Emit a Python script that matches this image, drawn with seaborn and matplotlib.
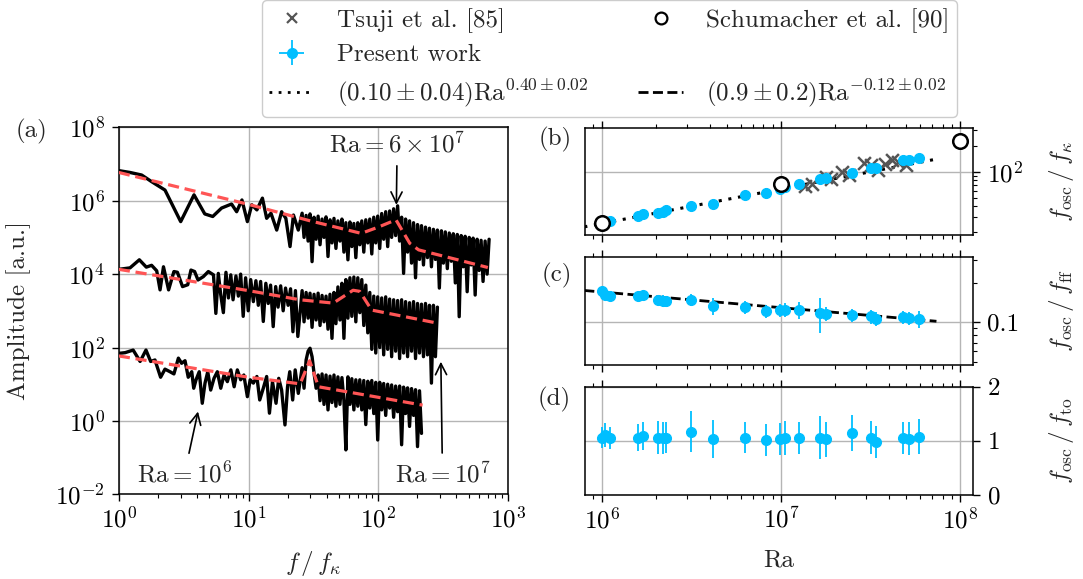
import numpy as np
import matplotlib
matplotlib.use("Agg")
import matplotlib.pyplot as plt
import seaborn as sns
from matplotlib.lines import Line2D
from matplotlib.ticker import LogLocator, NullFormatter, NullLocator

# ---------------- panel (a): spectra (log10 amplitude) ----------------
# frequency samples shared by the dense part of all three spectra (f/f_kappa > 25)
grid_f = [25.9, 26.8, 27.8, 28.8, 29.8, 30.9, 32.0, 33.2, 34.4, 35.6,
          36.9, 38.2, 39.6, 41.0, 42.5, 44.0, 45.6, 47.2, 48.9, 50.7,
          52.5, 54.4, 56.3, 58.4, 60.5, 62.6, 64.9, 67.2, 69.6, 72.1,
          74.7, 77.4, 80.2, 83.1, 86.1, 89.2, 92.4, 95.7, 99.1, 102.7,
          106.4, 110.2, 114.2, 118.3, 122.5, 126.9, 131.5, 136.2, 141.1, 146.2,
          151.5, 156.9, 162.5, 168.4, 174.4, 180.7, 187.2, 193.9, 200.9, 208.1,
          215.6, 223.3, 231.4, 239.7, 248.3, 257.2, 266.5, 276.1, 286, 296,
          307, 318, 329, 341, 353, 366, 379, 393, 407, 421,
          436, 452, 468, 485, 503, 521, 539, 559, 579, 600,
          621, 643, 667, 691, 716]

# Ra = 6e7
top_low_f = [1.0, 1.22, 1.5, 1.79, 2.27, 3.0, 3.8, 4.6, 5.3, 6.2, 7.4, 8.1, 8.9,
             9.8, 10.6, 11.6, 12.8, 13.8, 14.9, 16.5, 18.0, 19.4, 20.9, 22.2, 24.2]
top_low_a = [6.82, 6.77, 6.70, 6.52, 6.29, 5.43, 6.16, 5.64, 5.57, 5.80, 5.91, 5.70, 6.02,
             5.43, 5.89, 5.75, 6.07, 5.52, 5.66, 5.20, 5.70, 5.52, 4.75, 5.61, 5.20]
top_dense_a = [5.66, 5.00, 5.60, 4.90, 5.64, 4.34, 5.55, 4.95, 5.58, 4.80,
               5.50, 5.00, 5.56, 4.48, 5.48, 4.85, 5.52, 4.70, 5.45, 4.90,
               5.50, 4.60, 5.40, 4.39, 5.42, 4.75, 5.38, 4.45, 5.40, 4.80,
               5.45, 4.60, 5.48, 4.85, 5.50, 4.55, 5.55, 4.85, 5.58, 4.70,
               5.65, 4.95, 5.70, 4.75, 5.72, 5.00, 5.78, 5.05, 5.86, 4.90,
               5.55, 4.02, 5.50, 4.60, 5.45, 4.30, 5.40, 3.90, 5.35, 4.40,
               5.32, 4.25, 5.28, 4.45, 5.25, 4.20, 5.22, 4.40, 5.20, 3.62,
               5.18, 4.30, 5.15, 4.15, 5.12, 4.35, 5.10, 3.76, 5.08, 2.84,
               5.05, 4.20, 5.03, 3.52, 5.00, 4.25, 4.98, 3.43, 4.95, 4.10,
               4.92, 3.80, 4.90, 4.00, 4.95]
top_fit_f = [1, 10, 30, 74, 100, 137, 175, 205, 400, 700]
top_fit_a = [6.77, 5.90, 5.45, 5.11, 5.28, 5.48, 4.84, 4.66, 4.40, 4.18]

# Ra = 1e7
mid_low_f = [1.0, 1.22, 1.44, 1.63, 1.79, 1.96, 2.08, 2.21, 2.42, 2.66,
             2.83, 3.1, 3.4, 3.6, 3.84, 4.08, 4.48, 4.9, 5.37]
mid_low_a = [4.13, 4.17, 4.39, 4.19, 4.24, 4.09, 3.57, 4.20, 3.57, 4.07,
             4.05, 3.66, 3.71, 4.11, 4.07, 3.84, 3.93, 4.07, 3.98]
mid_band_f = [5.6, 5.85, 6.1, 6.4, 6.7, 7.0, 7.3, 7.6, 8.0, 8.35, 8.7, 9.1, 9.5, 9.95,
              10.4, 10.9, 11.4, 11.9, 12.4, 13.0, 13.6, 14.2, 14.8, 15.5, 16.2, 16.9,
              17.7, 18.5, 19.3, 20.2, 21.1, 22.0, 23.0, 24.0]
mid_band_a = [2.93, 4.02, 3.45, 2.95, 4.05, 3.35, 3.98, 3.30, 3.95, 3.40, 4.00, 2.85, 3.90, 3.00,
              3.85, 3.25, 3.82, 3.15, 3.80, 2.71, 3.75, 3.20, 3.70, 2.57, 3.66, 3.10,
              3.68, 3.00, 3.62, 3.15, 3.60, 2.43, 3.55, 2.30]
mid_dense_a = [3.55, 2.70, 3.50, 2.80, 3.48, 2.55, 3.45, 2.75, 3.48, 2.60,
               3.42, 2.70, 3.40, 2.50, 3.45, 2.25, 3.50, 2.65, 3.65, 2.75,
               3.75, 2.25, 3.85, 2.80, 3.90, 2.85, 3.92, 2.70, 3.90, 2.95,
               3.85, 2.60, 3.70, 2.40, 3.50, 1.95, 3.40, 1.85, 3.38, 2.00,
               3.35, 1.80, 3.38, 1.95, 3.32, 1.75, 3.30, 1.90, 3.28, 1.70,
               3.30, 1.85, 3.25, 1.75, 3.22, 1.90, 3.25, 1.70, 3.20, 1.85,
               3.18, 1.75, 3.20, 1.80, 3.15, 1.03, 3.15, 1.75, 3.10]
mid_fit_f = [1, 10, 25, 45, 64, 72, 89, 290]
mid_fit_a = [4.13, 3.55, 3.30, 3.21, 3.56, 3.53, 3.02, 2.66]

# Ra = 1e6
low_low_f = [1.0, 1.12, 1.29, 1.46, 1.62, 1.76, 1.90, 2.10, 2.27, 2.48,
             2.66, 2.88, 3.05, 3.24, 3.43, 3.65, 3.78, 3.94, 4.17, 4.40,
             4.62, 4.85, 5.11, 5.42, 5.75, 6.11, 6.47, 6.87, 7.31, 7.75,
             8.2, 8.7, 9.2, 9.8, 10.3, 10.9, 11.6, 12.2, 13.0, 13.8,
             14.5, 15.3, 16.3, 17.1, 18.0, 19.1, 20.0, 20.8, 21.9, 22.9, 24.2]
low_low_a = [1.84, 1.86, 1.93, 1.62, 1.93, 1.62, 1.66, 1.19, 1.41, 1.34,
             1.28, 1.71, 1.57, 1.64, 1.19, 1.34, 0.89, 1.12, 1.34, 0.48,
             1.03, 1.34, 0.84, 1.16, 1.34, 0.89, 1.25, 1.07, 1.39, 0.93,
             1.39, 1.12, 1.25, 0.66, 1.12, 1.03, 1.21, 0.57, 0.89, 1.21,
             0.21, 1.07, 0.48, 1.16, 0.84, -0.11, 0.93, 1.34, 0.57, 1.39, 0.75]
low_dense_a = [1.45, 0.89, 1.66, 1.90, 1.98, 1.75, 1.30, 0.89, 1.25, 0.55,
               1.28, 0.45, 1.25, 0.30, 1.22, 0.50, 1.25, 0.40, 1.20, 0.45,
               1.18, 0.55, -0.79, 1.20, 0.45, 1.15, 0.30, 1.12, 0.40, 1.12,
               0.30, 1.10, -0.10, 1.08, 0.35, 1.10, 0.20, 1.05, -0.52, 1.05,
               0.30, 1.02, 0.15, 1.00, 0.35, 0.98, 0.10, 0.95, 0.25, 0.95,
               -0.65, 0.92, 0.20, 0.90, -0.15, 0.88, 0.15, 0.85, -0.70, 0.82,
               -0.34]
low_fit_f = [1, 10, 25, 29.6, 34.6, 220]
low_fit_a = [1.77, 1.19, 1.01, 1.64, 0.93, 0.43]

# ---------------- panels (b)-(d) ----------------
ra = [1.0e6, 1.05e6, 1.12e6, 1.6e6, 1.7e6, 2.05e6, 2.2e6, 2.3e6, 3.15e6, 4.2e6, 6.3e6, 8.3e6,
      9.9e6, 1.05e7, 1.27e7, 1.66e7, 1.8e7, 2.5e7, 3.2e7, 3.4e7, 4.8e7, 5.2e7, 5.9e7]
ra_err = [4e4, 4e4, 4.5e4, 6.5e4, 7e4, 8e4, 9e4, 9e4, 1.3e5, 1.7e5, 2.5e5, 3.3e5,
          4e5, 4.2e5, 5e5, 6.5e5, 7e5, 1e6, 1.3e6, 1.4e6, 1.9e6, 2.1e6, 2.4e6]
f_kappa = [26.4, 26.4, 26.9, 30.8, 32.4, 33.6, 34.5, 36.1, 40.1, 42.3, 53.7, 57.2,
           62.6, 66.0, 72.0, 81.7, 83.9, 95.8, 109.5, 109.5, 136.5, 136.5, 142.8]
f_kappa_err = [3.0, 3.0, 3.2, 3.5, 3.8, 4.0, 4.0, 4.2, 4.8, 5.5, 6.5, 7.0,
               7.5, 8.0, 8.5, 9.5, 10, 11, 13, 13, 16, 16, 17]
f_ff = [0.173, 0.163, 0.159, 0.159, 0.163, 0.149, 0.147, 0.145, 0.149, 0.133, 0.131, 0.122,
        0.124, 0.125, 0.125, 0.118, 0.117, 0.113, 0.111, 0.107, 0.110, 0.108, 0.106]
f_ff_err = [0.010, 0.012, 0.012, 0.013, 0.013, 0.014, 0.015, 0.014, 0.016, 0.020, 0.016, 0.014,
            0.014, 0.015, 0.018, 0.035, 0.014, 0.013, 0.014, 0.013, 0.012, 0.012, 0.016]
f_to = [1.06, 1.11, 1.05, 1.06, 1.09, 1.06, 1.05, 1.06, 1.17, 1.03, 1.06, 1.02,
        1.03, 1.05, 1.05, 1.06, 1.03, 1.14, 1.06, 0.98, 1.05, 1.04, 1.08]
f_to_err = [0.20, 0.22, 0.20, 0.25, 0.25, 0.30, 0.30, 0.28, 0.38, 0.35, 0.28, 0.30,
            0.30, 0.32, 0.30, 0.40, 0.32, 0.33, 0.30, 0.30, 0.30, 0.30, 0.33]

tsuji_ra = [1.37e7, 1.5e7, 1.8e7, 1.9e7, 2.2e7, 2.4e7, 2.9e7, 3.2e7, 3.5e7, 3.8e7, 4.2e7, 4.5e7, 5.0e7]
tsuji_f = [68, 72, 86, 82, 98, 92, 125, 120, 105, 122, 135, 128, 120]
schu_ra = [1e6, 1e7, 1e8]
schu_f = [25.3, 71.5, 226]

fit_ra = [8.0e5, 7.4e7]
fit_kappa = [23.0, 140.0]
fit_ff = [0.176, 0.102]

# ---------------- style ----------------
sns.set_style("ticks")
plt.rcParams.update({
    "font.family": "serif",
    "font.serif": ["cmr10"],
    "mathtext.fontset": "cm",
    "axes.formatter.use_mathtext": True,
    "axes.unicode_minus": False,
    "font.size": 18,
    "axes.edgecolor": "black",
    "axes.linewidth": 1.1,
    "xtick.color": "black", "ytick.color": "black",
    "xtick.direction": "out", "ytick.direction": "out",
    "xtick.major.size": 5, "ytick.major.size": 5,
    "xtick.minor.size": 3, "ytick.minor.size": 3,
    "xtick.major.width": 1.0, "ytick.major.width": 1.0,
    "xtick.minor.width": 0.8, "ytick.minor.width": 0.8,
    "xtick.major.pad": 4, "ytick.major.pad": 5,
})

BLUE = "deepskyblue"
RED = "#ff5555"
GRID = "#b5b5b5"

fig = plt.figure(figsize=(10.83, 5.79), dpi=100)
ax_a = fig.add_axes([0.1097, 0.1463, 0.3593, 0.6338])
ax_b = fig.add_axes([0.5399, 0.5941, 0.3589, 0.1853])
ax_c = fig.add_axes([0.5399, 0.3696, 0.3589, 0.1870], sharex=ax_b)
ax_d = fig.add_axes([0.5399, 0.1451, 0.3589, 0.1870], sharex=ax_b)

# ---- (a) ----
ax_a.set_xscale("log")
ax_a.set_yscale("log")
spectra = [
    (top_low_f + grid_f[:len(top_dense_a)], top_low_a + top_dense_a, top_fit_f, top_fit_a),
    (mid_low_f + mid_band_f + grid_f[:len(mid_dense_a)], mid_low_a + mid_band_a + mid_dense_a,
     mid_fit_f, mid_fit_a),
    (low_low_f + grid_f[:len(low_dense_a)], low_low_a + low_dense_a, low_fit_f, low_fit_a),
]
for f, a, ff, fa in spectra:
    sns.lineplot(x=np.array(f), y=10.0 ** np.array(a), ax=ax_a, color="black", lw=2.4,
                 estimator=None, sort=False, zorder=2)
for f, a, ff, fa in spectra:
    ax_a.plot(ff, 10.0 ** np.array(fa), color=RED, lw=2.3, dashes=(3.5, 1.8), zorder=3)

ax_a.set_xlim(1, 1e3)
ax_a.set_ylim(1e-2, 1e8)
ax_a.set_yticks([1e-2, 1e0, 1e2, 1e4, 1e6, 1e8])
ax_a.yaxis.set_minor_locator(NullLocator())
ax_a.xaxis.set_major_locator(LogLocator(base=10, numticks=10))
ax_a.xaxis.set_minor_locator(LogLocator(base=10, subs=np.arange(2, 10), numticks=10))
ax_a.xaxis.set_minor_formatter(NullFormatter())
ax_a.grid(True, which="major", color=GRID, lw=1)
ax_a.tick_params(which="both", top=False, right=False)
ax_a.set_xlabel(r"$f\,/\,f_\kappa$")
ax_a.set_ylabel("Amplitude [a.u.]")
ax_a.yaxis.set_label_coords(-0.226, 0.5)
ax_a.xaxis.set_label_coords(0.5, -0.15)

arrow = dict(arrowstyle="->", color="black", lw=1.2, mutation_scale=20, shrinkA=4, shrinkB=0)
ax_a.annotate(r"$\mathrm{Ra} = 6 \times 10^7$", xy=(138, 7.7e5), xytext=(140, 3.5e7),
              ha="center", va="center", arrowprops=arrow)
ax_a.annotate(r"$\mathrm{Ra} = 10^6$", xy=(4.08, 1.8), xytext=(3.2, 0.034),
              ha="center", va="center", arrowprops=arrow)
ax_a.annotate(r"$\mathrm{Ra} = 10^7$", xy=(304, 41), xytext=(313, 0.034),
              ha="center", va="center", arrowprops=arrow)

# ---- (b)-(d) ----
ax_b.plot(fit_ra, fit_kappa, color="black", lw=2.2, dashes=(1, 2.2), zorder=1.5)
sns.scatterplot(x=tsuji_ra, y=tsuji_f, ax=ax_b, marker="x", color="#555555", s=85,
                linewidth=1.8, zorder=2)
eb = ax_b.errorbar(ra, f_kappa, yerr=f_kappa_err, xerr=ra_err, fmt="o", color=BLUE, ms=7,
                   elinewidth=1.3, capsize=0, zorder=3)
sns.scatterplot(x=schu_ra, y=schu_f, ax=ax_b, marker="o", color="white", edgecolor="black",
                s=110, linewidth=1.8, zorder=5)

ax_c.plot(fit_ra, fit_ff, color="black", lw=2.0, dashes=(3.6, 1.6), zorder=1.5)
ax_c.errorbar(ra, f_ff, yerr=f_ff_err, xerr=ra_err, fmt="o", color=BLUE, ms=7,
              elinewidth=1.3, capsize=0, zorder=3)

ax_d.errorbar(ra, f_to, yerr=f_to_err, xerr=ra_err, fmt="o", color=BLUE, ms=7,
              elinewidth=1.3, capsize=0, zorder=3)

for ax in (ax_b, ax_c, ax_d):
    ax.set_xscale("log")
    ax.yaxis.tick_right()
    ax.yaxis.set_label_position("right")
    ax.tick_params(which="both", top=True, bottom=True, left=False, right=True,
                   labelbottom=(ax is ax_d), labelleft=False, labelright=True)
    ax.grid(True, which="major", color=GRID, lw=1)
    ax.yaxis.set_label_coords(1.19, 0.5)
ax_d.set_xlim(8.04e5, 1.19e8)
ax_d.xaxis.set_major_locator(LogLocator(base=10, numticks=10))
ax_d.xaxis.set_minor_locator(LogLocator(base=10, subs=np.arange(2, 10), numticks=10))
ax_d.xaxis.set_minor_formatter(NullFormatter())

ax_b.set_yscale("log")
ax_b.set_ylim(18.5, 323)
ax_b.set_yticks([100])
ax_b.yaxis.set_minor_locator(LogLocator(base=10, subs=np.arange(2, 10), numticks=10))
ax_b.yaxis.set_minor_formatter(NullFormatter())

ax_c.set_yscale("log")
ax_c.set_ylim(0.047, 0.32)
ax_c.set_yticks([0.1], ["0.1"])
ax_c.yaxis.set_minor_locator(LogLocator(base=10, subs=np.arange(2, 10), numticks=10))
ax_c.yaxis.set_minor_formatter(NullFormatter())

ax_d.set_ylim(0, 2)
ax_d.set_yticks([0, 1, 2])

ax_b.set_ylabel(r"$f_\mathrm{osc}\,/\,f_\kappa$")
ax_c.set_ylabel(r"$f_\mathrm{osc}\,/\,f_\mathrm{ff}$")
ax_d.set_ylabel(r"$f_\mathrm{osc}\,/\,f_\mathrm{to}$")
ax_d.set_xlabel("Ra")
ax_d.xaxis.set_label_coords(0.5, -0.5)

for lab, x, y in [("(a)", 31, 131), ("(b)", 555, 139), ("(c)", 557, 275), ("(d)", 554, 399)]:
    fig.text(x / 1083, 1 - y / 579, lab, ha="center", va="center")

# ---- legend ----
h_tsuji = Line2D([], [], ls="none", marker="x", color="#555555", ms=7.5, mew=1.6)
h_schu = Line2D([], [], ls="none", marker="o", mfc="white", mec="black", ms=8.5, mew=1.6)
h_dot = Line2D([], [], color="black", lw=2.0, dashes=(1, 2.3))
h_dash = Line2D([], [], color="black", lw=2.0, dashes=(3.6, 1.6))
h_blank = Line2D([], [], ls="none")
handles = [h_tsuji, eb, h_dot, h_schu, h_blank, h_dash]
labels = ["Tsuji et al. [85]", "Present work",
          r"$(0.10 \pm 0.04)\mathrm{Ra}^{0.40 \pm 0.02}$",
          "Schumacher et al. [90]", "",
          r"$(0.9 \pm 0.2)\mathrm{Ra}^{-0.12 \pm 0.02}$"]
fig.legend(handles, labels, loc="upper center", bbox_to_anchor=(0.5625, 1.021), ncol=2,
           frameon=True, fancybox=True, edgecolor="#cccccc", framealpha=1,
           handlelength=1.8, handletextpad=0.9, columnspacing=2.0,
           labelspacing=0.45, borderpad=0.3, fontsize=18)

fig.savefig("out.png", dpi=100)
